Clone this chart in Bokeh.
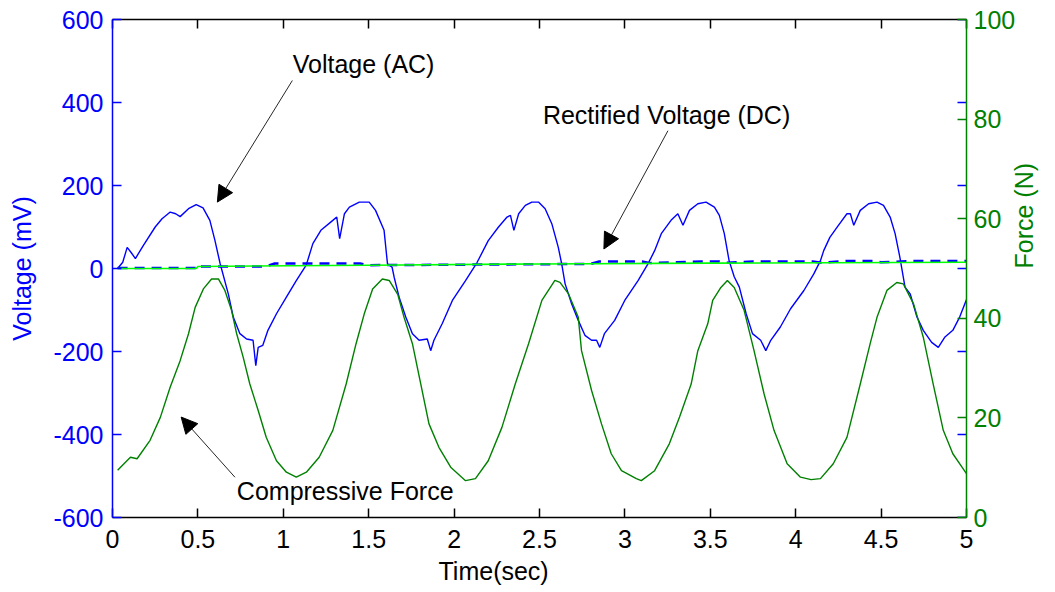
import math
from bokeh.plotting import figure
from bokeh.models import (Range1d, LinearAxis, FixedTicker, Label, Arrow, NormalHead, Title)
from bokeh.embed import file_html
from bokeh.resources import INLINE

# ---------------- data ----------------
volt_t = [0.03, 0.06, 0.086, 0.11, 0.134, 0.18, 0.25, 0.29, 0.338, 0.37, 0.396, 0.445, 0.49, 0.53,
          0.57, 0.60, 0.63, 0.678, 0.707, 0.746, 0.785, 0.823, 0.839, 0.853, 0.88, 0.91, 0.96, 1.018,
          1.076, 1.135, 1.173, 1.22, 1.29, 1.313, 1.33, 1.358, 1.387, 1.445, 1.503, 1.54, 1.59, 1.61,
          1.637, 1.649, 1.678, 1.717, 1.756, 1.795, 1.843, 1.863, 1.882, 1.93, 1.99, 2.067, 2.135,
          2.2, 2.26, 2.31, 2.33, 2.35, 2.378, 2.417, 2.455, 2.494, 2.533, 2.572, 2.61, 2.63, 2.65,
          2.688, 2.727, 2.766, 2.805, 2.834, 2.853, 2.88, 2.94, 2.999, 3.077, 3.135, 3.174, 3.213,
          3.27, 3.31, 3.34, 3.378, 3.427, 3.475, 3.524, 3.553, 3.582, 3.61, 3.64, 3.67, 3.71, 3.747,
          3.795, 3.825, 3.854, 3.91, 3.97, 4.048, 4.106, 4.145, 4.164, 4.2, 4.25, 4.3, 4.32, 4.34,
          4.378, 4.427, 4.476, 4.514, 4.553, 4.582, 4.61, 4.64, 4.67, 4.71, 4.747, 4.796, 4.835,
          4.874, 4.92, 4.96, 5.0]
volt_ac = [0, 15, 51, 38, 24, 55, 100, 120, 136, 132, 125, 144, 154, 146,
           116, 67, 12, -61, -117, -157, -170, -173, -234, -190, -185, -149, -109, -69,
           -29, 9, 60, 92, 116, 124, 72, 132, 148, 160, 160, 140, 92, 11,
           3, -21, -69, -117, -157, -173, -170, -198, -173, -133, -77, -29, 15,
           67, 100, 124, 128, 92, 132, 152, 160, 160, 144, 108, 51, 11, -37,
           -85, -125, -161, -173, -173, -190, -157, -125, -77, -29, 11, 43, 84,
           116, 132, 104, 140, 156, 160, 148, 128, 84, 19, -20, -45, -109, -157,
           -173, -198, -173, -141, -97, -53, -13, 19, 43, 75, 104, 132, 132, 104,
           140, 156, 160, 152, 124, 84, 27, -45, -61, -117, -149, -178, -190,
           -165, -149, -117, -75]

force_t = [0.03, 0.047, 0.105, 0.144, 0.22, 0.28, 0.338, 0.396, 0.445, 0.484, 0.532, 0.58, 0.62,
           0.658, 0.697, 0.727, 0.765, 0.804, 0.853, 0.9, 0.96, 1.018, 1.076, 1.135, 1.21, 1.29,
           1.368, 1.426, 1.474, 1.523, 1.58, 1.62, 1.67, 1.707, 1.756, 1.805, 1.853, 1.911, 1.98,
           2.067, 2.125, 2.2, 2.28, 2.358, 2.436, 2.514, 2.59, 2.62, 2.67, 2.727, 2.746, 2.805,
           2.863, 2.92, 2.98, 3.067, 3.096, 3.174, 3.26, 3.32, 3.388, 3.427, 3.485, 3.514, 3.562,
           3.6, 3.64, 3.698, 3.756, 3.815, 3.873, 3.95, 4.028, 4.09, 4.145, 4.22, 4.3, 4.378,
           4.436, 4.476, 4.534, 4.592, 4.63, 4.69, 4.747, 4.805, 4.864, 4.92, 5.0]
force_n = [9.5, 10.1, 12.1, 11.8, 15.5, 20.1, 26.2, 31.5, 36.9, 42.2, 45.9, 47.9, 47.9,
           45.6, 41.6, 36.9, 32.2, 26.8, 21.5, 16.1, 11.4, 9.1, 8.1, 9.1, 12.1, 17.5,
           26.8, 34.9, 40.9, 45.9, 47.9, 47.6, 44.8, 40.2, 34.9, 26.8, 18.8, 14.1, 10.1,
           7.4, 7.8, 11.4, 18.1, 26.8, 34.9, 43.6, 47.6, 47.2, 44.9, 40.2, 33.5, 25.5,
           18.8, 12.8, 9.4, 7.8, 7.4, 9.4, 14.8, 20.2, 26.8, 33.5, 38.9, 43.6, 46.2,
           47.6, 46.2, 41.6, 33.5, 24.8, 17.5, 10.8, 8.1, 7.6, 7.8, 10.8, 16.1, 26.8,
           34.9, 40.2, 45.6, 47.2, 46.9, 42.9, 36.2, 26.8, 17.5, 12.8, 8.8]

mean_t = [0.03, 0.49, 0.5, 1.5, 2.5, 3.5, 5.0]
mean_v = [0, 0, 5, 8, 11, 13, 15]

dc_t = [0.03, 0.5, 0.5, 0.9, 0.95, 1.45, 1.5, 2.8, 2.85, 3.1, 3.15, 3.45, 3.55, 3.6, 3.75,
        4.1, 4.15, 4.3, 4.45, 4.5, 4.7, 5.0]
dc_v = [1, 1, 5, 5, 12, 12, 8, 11, 17, 17, 13, 17, 17, 14, 17, 17, 14, 18, 18, 15, 18, 18]

time_ticks = [0, 0.5, 1, 1.5, 2, 2.5, 3, 3.5, 4, 4.5, 5]
time_labels = ["0", "0.5", "1", "1.5", "2", "2.5", "3", "3.5", "4", "4.5", "5"]
volt_ticks = [-600, -400, -200, 0, 200, 400, 600]
volt_labels = ["-600", "-400", "-200", "0", "200", "400", "600"]
force_ticks = [0, 20, 40, 60, 80, 100]
force_labels = ["0", "20", "40", "60", "80", "100"]

# ---------------- styling ----------------
FONT = "Liberation Sans"
FS = "25px"
BLUE = "#0000ff"
DGREEN = "#008000"
LGREEN = "#00ff00"

p = figure(width=1055, height=592, output_backend="svg", toolbar_location=None,
           x_range=Range1d(0, 5), y_range=Range1d(-600, 600),
           min_border_left=112, min_border_right=85, min_border_top=19, min_border_bottom=75,
           background_fill_color="white", border_fill_color="white")
p.outline_line_color = None
p.grid.visible = False
p.extra_y_ranges = {"force": Range1d(0, 100)}

def style_axis(ax, color, ticks, labels, standoff, show_labels=True):
    ax.ticker = FixedTicker(ticks=ticks)
    ax.major_label_overrides = {t: l for t, l in zip(ticks, labels)}
    ax.axis_line_color = color
    ax.axis_line_width = 1.5
    ax.major_tick_line_color = color
    ax.major_tick_line_width = 1.5
    ax.major_tick_in = 9
    ax.major_tick_out = 0
    ax.minor_tick_line_color = None
    ax.major_label_text_color = color
    ax.major_label_text_font = FONT
    ax.major_label_text_font_size = FS if show_labels else "1px"
    if not show_labels:
        ax.major_label_text_alpha = 0
    ax.major_label_standoff = standoff
    ax.axis_label_text_font = FONT
    ax.axis_label_text_font_size = FS
    ax.axis_label_text_font_style = "normal"
    ax.axis_label_text_color = color

style_axis(p.xaxis[0], "black", time_ticks, time_labels, 12)
style_axis(p.yaxis[0], BLUE, volt_ticks, volt_labels, 9)
p.yaxis[0].axis_label = "Voltage (mV)"
p.yaxis[0].axis_label_standoff = 14

top = LinearAxis()
style_axis(top, "black", time_ticks, time_labels, 0, show_labels=False)
p.add_layout(top, "above")

right = LinearAxis(y_range_name="force")
style_axis(right, DGREEN, force_ticks, force_labels, 7)
right.axis_label = "Force (N)"
right.axis_label_standoff = 6
right.axis_label_orientation = math.pi / 2
p.add_layout(right, "right")

xlab = Title(text="Time(sec)", align="left", offset=326, text_font=FONT, text_font_size=FS,
             text_font_style="normal", text_color="black", standoff=8)
p.add_layout(xlab, "below")

# mirrored voltage ticks on the right edge (half of each dash is clipped by the frame)
p.scatter(x=[time_ticks[-1]] * len(volt_ticks), y=volt_ticks, marker="dash", size=18,
          line_color=BLUE, line_width=1.5)

# ---------------- series ----------------
p.line(volt_t, volt_ac, line_color=BLUE, line_width=1.4)
p.line(dc_t, dc_v, line_color=BLUE, line_width=2.5, line_dash="10 7")
p.line(mean_t, mean_v, line_color=LGREEN, line_width=1.6)
p.line(force_t, force_n, line_color=DGREEN, line_width=1.4, y_range_name="force")

# ---------------- annotations ----------------
def txt(x, y, s, color="black"):
    p.add_layout(Label(x=x, y=y, text=s, text_color=color, text_font=FONT, text_font_size=FS,
                       text_align="left", text_baseline="middle"))

txt(1.055, 492, "Voltage (AC)")
txt(2.52, 369, "Rectified Voltage (DC)")
txt(0.728, -537, "Compressive Force")

for (x0, y0, x1, y1) in [(1.053, 453, 0.614, 160), (3.252, 332, 2.877, 47), (0.717, -503, 0.402, -358)]:
    p.add_layout(Arrow(x_start=x0, y_start=y0, x_end=x1, y_end=y1, line_color="black",
                       line_width=1, line_alpha=0.85,
                       end=NormalHead(size=16, fill_color="black", line_color="black")))

open("out.html", "w").write(file_html(p, INLINE))
